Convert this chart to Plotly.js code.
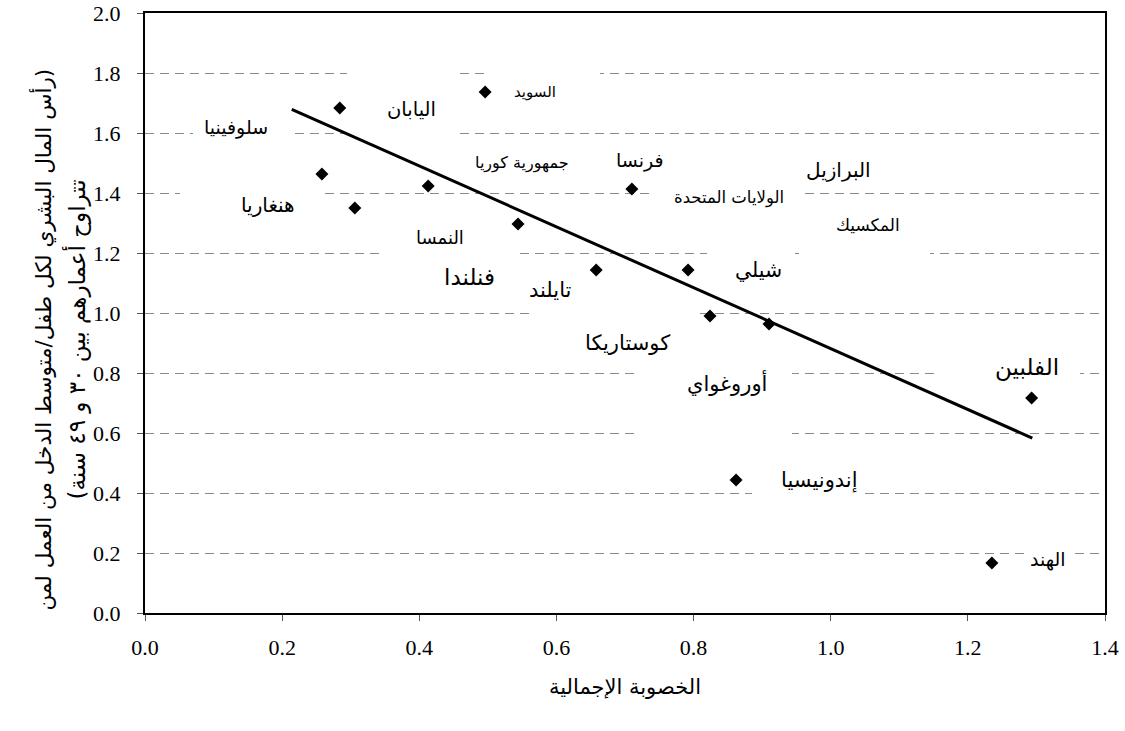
<!DOCTYPE html>
<html>
<head>
<meta charset="utf-8">
<script src="https://cdn.plot.ly/plotly-3.0.1.min.js"></script>
<style>html,body{margin:0;padding:0;background:#fff;}#chart{width:1125px;height:731px;}</style>
</head>
<body>
<div id="chart"></div>
<script>
// Data
const fertility = [0.284, 0.496, 0.258, 0.306, 0.413, 0.544, 0.710, 0.658, 0.792, 0.824, 0.910, 1.293, 0.862, 1.235];
const humanCapital = [1.683, 1.737, 1.463, 1.350, 1.423, 1.297, 1.413, 1.143, 1.143, 0.990, 0.963, 0.717, 0.443, 0.167];
const trendX = [0.214, 1.294];
const trendY = [1.679, 0.583];

// Country labels (Arabic)
const labelText = ['السويد', 'اليابان', 'سلوفينيا', 'هنغاريا', 'جمهورية كوريا', 'فرنسا', 'الولايات المتحدة', 'البرازيل', 'المكسيك', 'النمسا', 'فنلندا', 'تايلند', 'شيلي', 'كوستاريكا', 'أوروغواي', 'الفلبين', 'إندونيسيا', 'الهند'];
const labelX = [0.569, 0.389, 0.133, 0.179, 0.550, 0.722, 0.852, 1.011, 1.054, 0.430, 0.473, 0.591, 0.894, 0.703, 0.849, 1.286, 0.984, 1.317];
const labelY = [1.737, 1.677, 1.617, 1.360, 1.500, 1.510, 1.383, 1.477, 1.293, 1.253, 1.120, 1.077, 1.143, 0.900, 0.767, 0.817, 0.443, 0.177];
const labelSize = [15, 19.5, 19, 20, 16, 19, 16.5, 20, 17, 18, 23, 21, 20.5, 21, 21, 23, 21, 19];

const xTitle = 'الخصوبة الإجمالية';
const yTitle1 = '\u200F(رأس المال البشري لكل طفل/متوسط الدخل من العمل لمن\u200F';
const yTitle2 = '\u200Fتتراوح أعمارهم بين ٣٠ و ٤٩ سنة)\u200F';

// plot-area geometry helpers (pixels -> data) for white label boxes
const X0 = 145, X1 = 1105, Y0 = 613, Y1 = 13;
const px2x = p => (p - X0) / (X1 - X0) * 1.4;
const px2y = p => (Y0 - p) / (Y0 - Y1) * 2;
const labelBoxes = [
  [490, 600, 58, 106], [347, 457, 65, 140], [193, 290, 116, 146], [180, 320, 184, 224],
  [650, 803, 186, 211], [380, 517, 226, 262], [707, 795, 248, 290], [805, 930, 205, 262],
  [533, 700, 304, 358], [640, 792, 362, 442], [937, 1080, 352, 398], [752, 860, 470, 506],
  [1027, 1070, 545, 575]
];

const arabicFont = 'DejaVu Sans, sans-serif';
const serifFont = 'Liberation Serif, Times New Roman, serif';

const traces = [
  {
    x: trendX, y: trendY, type: 'scatter', mode: 'lines',
    line: {color: '#000', width: 3}, hoverinfo: 'skip', showlegend: false
  },
  {
    x: fertility, y: humanCapital, type: 'scatter', mode: 'markers',
    marker: {symbol: 'diamond', size: 10, color: '#000'}, showlegend: false
  }
];

const annotations = labelText.map((t, i) => ({
  x: labelX[i], y: labelY[i], xref: 'x', yref: 'y', text: t, showarrow: false,
  font: {family: arabicFont, size: labelSize[i], color: '#000'}
}));
[[yTitle1, 27, 21.5], [yTitle2, 60, 23]].forEach(([t, px, sz]) => annotations.push({
  xref: 'paper', yref: 'paper', x: (px - X0) / (X1 - X0), y: (Y0 - 340) / (Y0 - Y1),
  text: t, textangle: -90, showarrow: false,
  font: {family: arabicFont, size: sz, color: '#000'}
}));

const shapes = labelBoxes.map(b => ({
  type: 'rect', xref: 'x', yref: 'y', layer: 'between',
  x0: px2x(b[0]), x1: px2x(b[1]), y0: px2y(b[3]), y1: px2y(b[2]),
  fillcolor: '#fff', line: {width: 0}
}));

const layout = {
  width: 1125, height: 731,
  margin: {l: 145, r: 20, t: 13, b: 118},
  paper_bgcolor: '#fff', plot_bgcolor: '#fff',
  font: {family: serifFont, size: 22, color: '#000'},
  showlegend: false,
  xaxis: {
    range: [0, 1.4], dtick: 0.2, tick0: 0, tickformat: '.1f',
    showgrid: false, zeroline: false,
    showline: true, linewidth: 2, linecolor: '#000', mirror: true,
    ticks: 'outside', ticklen: 6, tickwidth: 1, tickcolor: '#555',
    ticklabelstandoff: 8,
    tickfont: {family: serifFont, size: 22, color: '#000'},
    title: {text: xTitle, standoff: 20, font: {family: arabicFont, size: 21, color: '#000'}}
  },
  yaxis: {
    range: [0, 2], dtick: 0.2, tick0: 0, tickformat: '.1f',
    showgrid: true, gridcolor: '#8a8a8a', gridwidth: 1, griddash: '9px,6px',
    zeroline: false,
    showline: true, linewidth: 2, linecolor: '#000', mirror: true,
    ticks: 'outside', ticklen: 6, tickwidth: 1, tickcolor: '#555',
    ticklabelstandoff: 12,
    tickfont: {family: serifFont, size: 22, color: '#000'}
  },
  annotations: annotations,
  shapes: shapes
};

Plotly.newPlot('chart', traces, layout, {displayModeBar: false, staticPlot: true});
</script>
</body>
</html>
